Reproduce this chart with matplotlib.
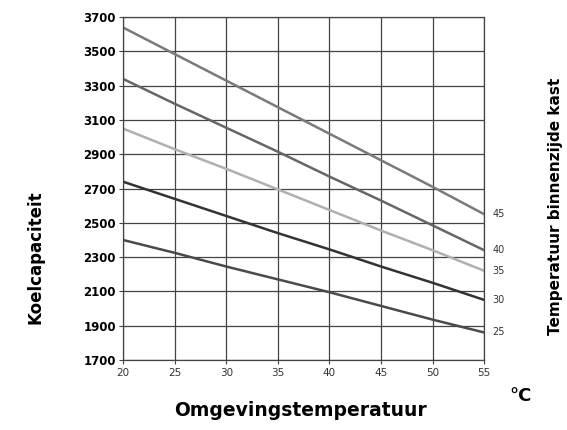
import matplotlib

matplotlib.use("Agg")
import matplotlib.pyplot as plt

# %% Data
ambient = [20, 25, 30, 35, 40, 45, 50, 55]
inside_temps = ["45", "40", "35", "30", "25"]
cap_45 = [3640, 3485, 3330, 3175, 3020, 2865, 2710, 2550]
cap_40 = [3340, 3195, 3055, 2915, 2770, 2630, 2485, 2340]
cap_35 = [3050, 2930, 2815, 2695, 2575, 2455, 2340, 2220]
cap_30 = [2740, 2640, 2540, 2440, 2345, 2245, 2150, 2050]
cap_25 = [2400, 2325, 2245, 2170, 2095, 2015, 1935, 1860]
series = [cap_45, cap_40, cap_35, cap_30, cap_25]
line_colors = ["#7a7a7a", "#666666", "#b0b0b0", "#333333", "#4a4a4a"]
y_ticks = list(range(1700, 3701, 200))

# %% Plot
fig = plt.figure(figsize=(5.67, 4.30), dpi=100)
ax = fig.add_axes([0.217, 0.163, 0.637, 0.797])

for vals, c in zip(series, line_colors):
    ax.plot(ambient, vals, color=c, lw=1.8, solid_capstyle="butt")

ax.set_xlim(20, 55)
ax.set_ylim(1700, 3700)
ax.set_xticks(ambient)
ax.set_yticks(y_ticks)
ax.grid(True, color="#444444", lw=0.9)
for s in ax.spines.values():
    s.set_color("#444444")
    s.set_linewidth(0.9)
ax.tick_params(axis="y", length=3, color="#444444", labelsize=8.5, pad=2)
ax.tick_params(axis="x", length=3, color="#444444", labelsize=7.5, pad=3,
               labelcolor="#333333")
for lbl in ax.get_yticklabels():
    lbl.set_fontweight("bold")

# right side labels for each inside temperature
for name, vals in zip(inside_temps, series):
    ax.annotate(name, xy=(55, vals[-1]), xytext=(6, 0), textcoords="offset points",
                fontsize=7, va="center", ha="left", color="#333333",
                annotation_clip=False)

fig.text(0.062, 0.402, "Koelcapaciteit", rotation=90, fontsize=12,
         fontweight="bold", ha="center", va="center")
fig.text(0.53, 0.045, "Omgevingstemperatuur", fontsize=13.5, fontweight="bold",
         ha="center", va="center")
fig.text(0.979, 0.52, "Temperatuur binnenzijde kast", rotation=90, fontsize=11,
         fontweight="bold", ha="center", va="center")
fig.text(0.918, 0.08, "°C", fontsize=13, fontweight="bold", ha="center",
         va="center")

plt.savefig("out.png", dpi=100)
plt.close()
